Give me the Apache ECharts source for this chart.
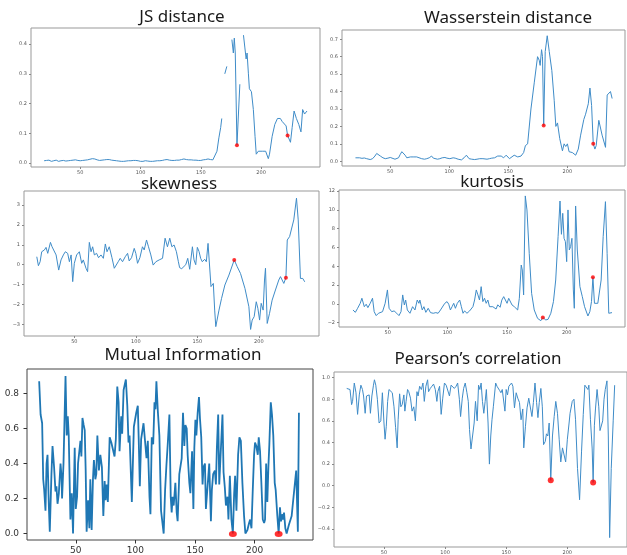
<!DOCTYPE html>
<html><head><meta charset="utf-8">
<script src="https://cdn.jsdelivr.net/npm/echarts@6/dist/echarts.min.js"></script>
<style>html,body{margin:0;padding:0;background:#fff}#c{width:627px;height:555px}</style>
</head><body><div id="c"></div>
<script>
// ---------- DATA ----------
const xTicks = [50, 100, 150, 200];

// JS distance (null = gap)
const jsX = [20,22,24,26,28,30,32,34,36,38,40,42,44,46,48,50,52,54,56,58,60,62,64,66,68,70,72,74,76,78,80,82,84,86,88,90,92,94,96,98,100,102,104,106,108,110,112,114,116,118,120,122,124,126,128,130,132,134,136,138,140,142,144,146,148,150,152,154,156,158,160,161.6,163.4,165,165.8,166.5,167.4,168.5,169.9,171.6,173.5,175.8,177,177.8,178.6,180,182.4,184,185.4,186.5,187.6,188.4,189.5,190.3,192,193.6,195,196,197.7,199.1,201,203.8,206,207,209.2,211.4,213.6,216,217.5,219.1,220.8,222,224.4,225.8,227.4,229.3,231.3,233.1,234.5,236.1,238.1];
const jsY = [0.008,0.009,0.010,0.006,0.008,0.010,0.006,0.008,0.009,0.007,0.008,0.009,0.010,0.011,0.009,0.008,0.009,0.010,0.011,0.013,0.015,0.014,0.011,0.009,0.010,0.011,0.012,0.012,0.010,0.009,0.008,0.007,0.006,0.006,0.007,0.008,0.008,0.009,0.009,0.008,0.006,0.006,0.008,0.007,0.006,0.006,0.007,0.008,0.008,0.009,0.011,0.012,0.010,0.009,0.009,0.010,0.010,0.012,0.014,0.012,0.011,0.011,0.010,0.010,0.009,0.009,0.011,0.012,0.014,0.012,0.011,0.012,0.04,0.085,0.09,0.12,0.15,null,0.30,0.325,null,0.415,0.37,0.42,0.37,0.06,0.265,null,0.43,0.39,0.35,0.37,0.30,0.25,0.24,0.18,0.09,0.03,0.04,0.045,0.04,0.04,0.015,0.03,0.09,0.13,0.15,0.15,0.14,0.14,0.125,0.093,0.07,0.12,0.175,0.15,0.13,0.105,0.18,0.165,0.175];
const jsRedX = [180, 222];
const jsRedY = [0.06, 0.093];
const jsYTicks = [0, 0.1, 0.2, 0.3, 0.4];

// Wasserstein distance
const wsX = [20.5,22,24,26,28,30,33,35,37,38.5,40,41.6,43.8,45.8,48,50,51.4,54,57,58.5,59.8,61,62.6,64,65.4,67,68,70,72.4,74,76.6,79,80.9,83,85,86.5,87.9,90,92,94,96.3,98,100.5,103.3,105,107.5,110.3,112.5,114.5,116.8,119,121.5,123.5,125.8,127,128.5,130,132,134,136,138.4,141,144,146,148.2,151,152.4,155,158,160.8,163,164.5,166.4,169.2,172,174.8,176.2,177,178.2,179,180,181.3,183,184.7,186.9,188.9,190.3,191.7,193.6,195.9,197.3,198.7,200.1,201.5,204.3,207.1,209.3,211.3,214,215.5,217.8,219.2,220.6,222,223.4,224.5,226.7,229.5,232.4,233.8,235.2,236.6,238];
const wsY = [0.02,0.018,0.02,0.017,0.019,0.015,0.01,0.015,0.03,0.045,0.04,0.03,0.02,0.015,0.018,0.022,0.022,0.012,0.02,0.04,0.055,0.05,0.035,0.02,0.03,0.025,0.02,0.025,0.025,0.02,0.015,0.012,0.015,0.02,0.03,0.018,0.012,0.012,0.015,0.02,0.022,0.018,0.015,0.02,0.018,0.012,0.008,0.02,0.035,0.015,0.012,0.01,0.012,0.015,0.025,0.015,0.01,0.012,0.015,0.018,0.02,0.03,0.03,0.02,0.035,0.015,0.01,0.035,0.025,0.03,0.05,0.09,0.10,0.30,0.45,0.60,0.58,0.55,0.64,0.60,0.205,0.63,0.72,0.63,0.52,0.35,0.20,0.22,0.13,0.06,0.10,0.085,0.10,0.055,0.05,0.035,0.07,0.15,0.24,0.27,0.33,0.42,0.32,0.10,0.07,0.09,0.235,0.15,0.08,0.38,0.38,0.40,0.36];
const wsRedX = [180, 222];
const wsRedY = [0.205, 0.10];
const wsYTicks = [0, 0.1, 0.2, 0.3, 0.4, 0.5, 0.6, 0.7];

// skewness
const skX = [19.5,20.8,22.2,23.5,25.7,27,28.4,30.6,31.9,33.3,35.2,37.3,39.2,41.1,42.7,44.6,46,47.4,48.7,50,51.9,54.1,56,57.3,59.5,60.8,62.2,63.6,64.9,66.3,68.1,69.7,71.7,73.6,75.2,76.6,78.4,80.6,82.5,83.8,85.7,87.3,89.2,91.4,93.3,94.6,96.5,98.7,100,101.4,103.3,105.4,106.8,108.7,110.3,112.2,114.1,116.3,119,121.7,123.8,125.7,127.6,129.3,131.1,133,134.6,135.6,137.3,138.4,140.6,142.2,143.8,146,147.3,148.7,150,151.4,152.7,154,156,157.3,158.7,160,161.1,162.2,163,164.1,165,165.7,167.6,169.7,172.4,175.7,180,182.4,185.1,188.7,190,191.9,193.3,194.6,196.2,197.9,199.2,200.6,201.9,203.5,204.6,205.4,206.8,208.7,210.8,213.5,216.2,217.6,218.9,220.3,222,223.1,225,226.5,228.4,230.6,232,233.8,235.7,237.3];
const skY = [0.40,-0.05,0.15,0.65,0.74,0.87,0.57,1.12,0.9,0.99,0.49,-0.27,0.24,0.49,0.65,0.57,0.15,0.49,-0.85,0.07,0.49,0.65,0.07,0.24,-0.18,-0.35,1.12,0.65,0.9,0.49,0.57,0.35,0.49,0.32,1.04,0.65,0.9,0.35,-0.18,-0.27,0.15,0.32,0.15,0.4,0.57,0.19,0.35,0.82,0.57,0.07,0.35,0.9,0.74,1.24,0.9,0.49,-0.02,0.15,0.24,0.32,1.33,0.9,1.33,0.9,0.99,0.65,0.15,-0.15,-0.2,-0.27,0,0.32,-0.23,0.9,0.24,0,0.87,0.66,0.32,0.15,0.27,0.15,1.07,1.11,-1.1,-1.19,-0.94,-2.28,-3.11,-3.03,-2.28,-1.69,-1.02,-0.52,0.24,-0.1,-0.44,-1.19,-1.27,-2.11,-3.25,-2.78,-2.61,-1.86,-2.19,-2.78,-1.94,-2.28,-0.77,-0.18,-2.95,-2.44,-1.78,-1.27,-0.77,-0.6,-0.69,-0.94,-0.65,1.24,1.41,1.32,2.25,3.34,2.25,-0.69,-0.69,-0.86];
const skRedX = [180, 222];
const skRedY = [0.24, -0.65];
const skYTicks = [-3, -2, -1, 0, 1, 2, 3];

// kurtosis
const kuX = [20.8,22.8,24.7,26.9,28.3,30.3,31.9,33.3,35.3,37.2,38.6,40.3,42.2,43.6,45.6,47.8,49.7,51.1,53.3,55.3,57.5,59.4,61.1,62.5,63.9,65,66.4,68.6,70.8,72.8,74.7,76.1,76.9,78.9,80.3,81.9,83.9,85.8,88.1,90.3,92.2,94.2,95.8,97.8,99.7,101.1,102.5,103.9,105.3,106.7,108.3,110.3,111.7,113.1,114.4,116.4,118.6,120,121.4,122.8,124.2,125.6,126.9,128.3,129.7,131.1,132.5,133.9,135.3,136.7,138.1,139.4,140.8,142.2,144.2,145.6,147.2,148.6,150,151.4,152.8,154.2,156.1,157.5,158.9,160.3,161.1,161.9,162.8,163.9,165.3,166.7,168.6,170.6,172.8,175.6,178.3,180,182.5,184.4,186.7,188.9,190.8,192.8,194.4,195.6,196.7,197.8,198.9,200,201.1,202.2,203.3,204.4,205.6,206.4,207.5,208.9,211.1,213.1,215,217.8,219.4,220.8,222,223.3,224.7,226.1,227.2,228.9,230.6,232.5,233.9,235.3,236.7,238];
const kuY = [-0.65,-0.9,-0.47,0.06,0.6,-0.3,-0.04,-0.4,0.06,0.6,-0.83,-1.25,-1.0,-1.0,-0.83,0.06,1.48,-0.47,-0.83,-0.75,-1.0,-1.25,-0.83,0.95,-0.12,0.41,-0.65,-1.0,-0.3,-0.65,0.41,0.06,0.41,-0.65,-0.3,-0.9,-0.47,-0.93,-1.0,-0.93,-1.0,-0.65,-0.65,0.06,0.24,-0.04,-0.65,-0.3,0.06,-0.47,0.06,0.41,-0.3,-1.0,-0.75,-1.0,-0.75,-0.65,-0.3,0.41,1.48,0.95,0.41,1.83,0.24,0.6,0.06,0.41,-0.3,-0.47,-0.3,-0.4,-0.55,-0.1,-0.36,0.4,0.77,0.84,0.06,0.59,0.41,-0.12,-0.3,-0.47,-0.65,0.59,0.77,4.13,3.6,0.95,11.48,9.99,5.38,1.12,-0.65,-1.54,-1.79,-1.46,-1.71,-1.64,-1.0,0.24,2.54,7.15,10.94,7.4,9.63,6.97,6.62,4.49,9.99,5.73,6.09,6.97,1.48,-0.47,10.41,5.73,1.83,0.77,-0.3,-1.29,-0.83,0.24,2.83,0.06,-0.12,0.06,-0.05,2.54,7.15,10.87,5.38,-1.0,-1.07,-0.93];
const kuRedX = [180, 222];
const kuRedY = [-1.46, 2.83];
const kuYTicks = [-2, 0, 2, 4, 6, 8, 10, 12];

// Mutual Information
const miX = [19.3,20.5,21.8,22.7,23.5,24.6,25.5,26.3,27.4,28.2,29.6,30.5,31.8,33,33.8,34.7,35.8,37.2,38,38.5,39.7,41.4,42.4,43.3,44.1,45.5,46.6,47.7,49.1,50,51.1,51.9,52.8,53.9,54.7,55.6,56.6,57.5,58.3,59.1,60.3,61.4,62.2,63.3,64.4,65.2,66.4,67.2,68.1,69.4,70.6,71.9,73.1,74.2,75,75.9,76.9,78.4,79.8,81.1,82.5,83.6,84.8,85.9,86.7,88.1,88.9,90.1,90.9,92,93.2,94.2,95.1,97,98.7,100.7,102,102.8,103.7,104.8,106.8,108.2,109.3,110.4,111.8,112.6,113.7,114.9,116,116.8,117.6,118.7,120.1,121.5,122.9,123.7,124.9,126,127.1,127.9,128.5,129.6,130.4,131.2,132.1,133.5,134.6,135.4,136.8,138.8,139.9,141,141.9,143,143.8,145.2,146.1,147.5,148.6,149.4,150.3,151.1,152.2,153.3,154.1,155.2,156.3,157.1,158.3,159.1,160.5,161.9,163.3,164.1,165.2,166.6,167.5,168.3,169.4,170.3,171.7,173,173.9,175,175.9,177.2,178,179.2,180.5,181.7,182.8,183.6,184.7,186.1,187.2,188.4,189.7,191.1,192.2,193.9,195.3,196.2,197.3,198.4,199.5,200.3,201.4,202.6,203.4,204.5,205.6,206.8,207.9,208.7,209.6,210.6,211.5,212.3,213.5,214.5,215.6,216.8,217.6,219,220.1,221.2,222.1,222.9,223.7,224.6,225.7,226.8,228.7,231,232.3,233.7,234.8,236.2,237.1];
const miY = [0.87,0.68,0.63,0.31,0.25,0.13,0.40,0.45,0.16,0.01,0.34,0.50,0.38,0.24,0.27,0.17,0.23,0.40,0.33,0.20,0.40,0.90,0.56,0.67,0.56,0.08,0.23,0.00,0.49,0.14,0.21,0.40,0.41,0.53,0.44,0.66,0.62,0.59,0.36,0.01,0.19,0.03,0.31,0.02,0.31,0.42,0.31,0.34,0.56,0.36,0.45,0.38,0.10,0.30,0.19,0.28,0.18,0.55,0.52,0.52,0.44,0.54,0.84,0.75,0.47,0.67,0.57,0.82,0.81,0.88,0.73,0.52,0.56,0.18,0.61,0.69,0.73,0.53,0.27,0.54,0.63,0.63,0.43,0.53,0.21,0.11,0.55,0.51,0.75,0.71,0.87,0.71,0.56,0.13,0.13,0.0,0.25,0.39,0.51,0.51,0.68,0.21,0.12,0.21,0.16,0.29,0.12,0.07,0.34,0.43,0.69,0.50,0.62,0.60,0.45,0.29,0.23,0.47,0.14,0.49,0.65,0.56,0.69,0.78,0.66,0.55,0.28,0.38,0.40,0.14,0.27,0.40,0.07,0.25,0.34,0.36,0.28,0.49,0.68,0.28,0.29,0.68,0.35,0.26,0.16,0.21,0.08,0.33,0.08,0.0,0.23,0.33,0.13,0.45,0.55,0.53,0.29,0.10,0.0,0.02,0.06,0.08,0.03,0.25,0.45,0.52,0.50,0.45,0.55,0.47,0.29,0.08,0.06,0.08,0.40,0.18,0.38,0.51,0.75,0.68,0.56,0.29,0.25,0.10,0.0,0.15,0.07,0.11,0.08,0.12,0.03,0.0,0.05,0.10,0.19,0.19,0.36,0.01,0.69];
const miRedX = [181.7, 220.1];
const miRedY = [-0.003, -0.003];
const miYTicks = [0, 0.2, 0.4, 0.6, 0.8];

// Pearson's correlation
const peX = [19.5,20.8,22.2,23.5,24.3,25.7,27.1,28.4,29.8,31.1,32.4,33.3,34.6,35.7,37.1,37.9,38.9,40.1,41.4,42.2,43.3,44.6,46,47.4,48.7,50,50.9,51.9,53,54.1,55.5,56.8,58.2,59.5,60.8,61.6,62.8,63.8,64.9,66.3,67.1,68.1,69.3,70.3,71.7,73,74.4,75.7,77,77.9,79.2,80.6,81.9,83,84.3,85.7,86.5,87.9,89.2,90.6,92,93.3,94.1,95.5,96.8,98.1,99.5,100.9,102.2,103.6,104.9,106.2,107.6,109,110.3,111.7,112.7,114.1,115.2,116.5,117.9,119,120,121.2,122.8,123.8,124.9,126.3,127.4,128.5,129.5,130.6,131.7,132.8,133.8,135.2,136.3,137.4,138.4,139.5,140.6,141.4,142.5,143.6,144.7,145.7,146.8,147.9,149,150,151.1,152.2,153.3,154.4,155.5,156.8,158.2,159.5,160.9,162.2,163.6,164.4,165.8,167.1,168.5,169.8,171.1,172.3,173.6,174.9,176,177.1,178.4,179.6,180.6,182,183,184.1,185.2,186.5,187.9,189.3,190.6,192,193.4,194.7,196.1,197.4,198.7,200.1,201.5,202.3,203.3,204.1,205.5,206.8,208.4,210.1,211.7,213.1,214.4,215.8,216.9,217.7,219,220.4,221.2,222.2,223.1,224.4,225.8,226.8,227.9,229,230.1,231.1,232.5,233.6,234.7,236,237.6,238.8];
const peY = [0.90,0.89,0.89,0.75,0.78,0.95,0.86,0.66,0.84,0.93,0.89,0.83,0.67,0.83,0.83,0.84,0.67,0.83,0.93,0.98,0.93,0.80,0.58,0.60,0.86,0.58,0.43,0.55,0.78,0.89,0.89,0.86,0.73,0.54,0.35,0.61,0.85,0.73,0.75,0.84,0.69,0.78,0.89,0.87,0.81,0.69,0.73,0.60,0.87,0.83,0.92,0.89,0.95,0.78,0.92,0.98,0.87,0.90,0.92,0.94,0.89,0.78,0.87,0.92,0.66,0.81,0.95,0.93,0.92,0.83,0.93,0.94,0.90,0.92,0.95,0.80,0.64,0.81,0.90,0.95,0.86,0.78,0.52,0.34,0.35,0.58,0.78,0.60,0.93,0.89,0.95,0.78,0.67,0.78,0.89,0.58,0.20,0.46,0.61,0.73,0.73,0.95,0.92,0.93,0.88,0.86,0.89,0.90,0.69,0.89,0.84,0.92,0.93,0.95,0.92,0.72,0.86,0.81,0.77,0.61,0.71,0.35,0.55,0.72,0.81,0.82,0.64,0.77,0.95,0.77,0.63,0.77,0.90,0.73,0.38,0.41,0.48,0.46,0.58,0.05,0.46,0.64,0.78,0.67,0.43,0.22,0.35,0.34,0.22,0.43,0.58,0.67,0.66,0.78,0.80,0.61,0.16,-0.13,0.32,0.66,0.93,0.92,0.89,0.93,0.61,0.34,0.03,0.56,0.71,0.89,0.73,0.51,0.51,0.60,0.80,0.89,0.97,0.46,-0.48,0.16,0.60,0.93];
const peRedX = [186.5, 221.2];
const peRedY = [0.05, 0.03];
const peYTicks = [-0.4, -0.2, 0, 0.2, 0.4, 0.6, 0.8, 1.0];

// ---------- LAYOUT ----------
const fmt1 = v => (v < -1e-9 ? '\u2212' : '') + Math.abs(v).toFixed(1);
const fmt0 = v => (v < -1e-9 ? '\u2212' : '') + Math.abs(Math.round(v));
const panels = [
  {title:'JS distance', tx:182, ty:17, g:{left:31, top:28, width:289, height:139}, yr:[-0.013,0.454], yt:jsYTicks, f:fmt1, x:jsX, y:jsY, rx:jsRedX, ry:jsRedY, big:false},
  {title:'Wasserstein distance', tx:508, ty:18, g:{left:342, top:30, width:283, height:136}, yr:[-0.027,0.753], yt:wsYTicks, f:fmt1, x:wsX, y:wsY, rx:wsRedX, ry:wsRedY, big:false},
  {title:'skewness', tx:179, ty:184, g:{left:24, top:191, width:295, height:145}, yr:[-3.58,3.70], yt:skYTicks, f:fmt0, x:skX, y:skY, rx:skRedX, ry:skRedY, big:false},
  {title:'kurtosis', tx:492, ty:182, g:{left:339, top:190, width:286, height:137}, yr:[-2.46,12.11], yt:kuYTicks, f:fmt0, x:kuX, y:kuY, rx:kuRedX, ry:kuRedY, big:false},
  {title:'Mutual Information', tx:183, ty:355, g:{left:27, top:369, width:286, height:176}, yr:[-0.037,0.94], yt:miYTicks, f:fmt1, x:miX, y:miY, rx:miRedX, ry:miRedY, big:true},
  {title:'Pearson\u2019s correlation', tx:478, ty:359, g:{left:334, top:372, width:296, height:177}, yr:[-0.567,1.052], yt:peYTicks, f:fmt1, x:peX, y:peY, rx:peRedX, ry:peRedY, big:true, small:true}
];
const zip = (xs, ys) => xs.map((x, i) => [x, ys[i] === null ? '-' : ys[i]]);

const option = {
  animation: false,
  backgroundColor: '#fff',
  graphic: panels.map(p => ({type:'text', x:p.tx, y:p.ty, style:{text:p.title, align:'center', verticalAlign:'middle', fontSize:17, fontFamily:'Noto Sans', fill:'#1a1a1a'}})),
  grid: panels.map(p => Object.assign({show:true, borderColor: p.big && !p.small ? '#444' : '#999', borderWidth:1, backgroundColor:'transparent'}, p.g)),
  xAxis: panels.map((p, i) => {
    const big = p.big && !p.small;
    return {type:'value', gridIndex:i, min:9.1, max:248.9,
      splitLine:{show:false}, axisLine:{show:false, onZero:false},
      axisTick:{show:true, customValues:xTicks, length: big ? 3.5 : 2, lineStyle:{color: big ? '#333' : '#888'}},
      axisLabel:{customValues:xTicks, fontSize: big ? 9 : 5, color: big ? '#333' : '#555', margin: big ? 6 : 3, fontFamily:'DejaVu Sans'}};
  }),
  yAxis: panels.map((p, i) => {
    const big = p.big && !p.small;
    return {type:'value', gridIndex:i, min:p.yr[0], max:p.yr[1],
      splitLine:{show:false}, axisLine:{show:false, onZero:false},
      axisTick:{show:true, customValues:p.yt, length: big ? 3.5 : 2, lineStyle:{color: big ? '#333' : '#888'}},
      axisLabel:{customValues:p.yt, formatter:p.f, fontSize: big ? 9 : 5, color: big ? '#333' : '#555', margin: big ? 8 : 4, fontFamily:'DejaVu Sans'}};
  }),
  series: []
};
panels.forEach((p, i) => {
  const big = p.big && !p.small;
  option.series.push({type:'line', xAxisIndex:i, yAxisIndex:i, data:zip(p.x, p.y), showSymbol:false, connectNulls:false,
    lineStyle:{color: big ? '#1f77b4' : '#3f8cc8', width: big ? 1.8 : 1}, z:2});
  option.series.push({type:'scatter', xAxisIndex:i, yAxisIndex:i, data:zip(p.rx, p.ry), symbol:'circle',
    symbolSize: p.big ? (big ? [8,6] : 6) : 4, itemStyle:{color:'#ff0000'}, z:3});
});
const chart = echarts.init(document.getElementById('c'), null, {renderer:'canvas'});
chart.setOption(option);
</script>
</body></html>
